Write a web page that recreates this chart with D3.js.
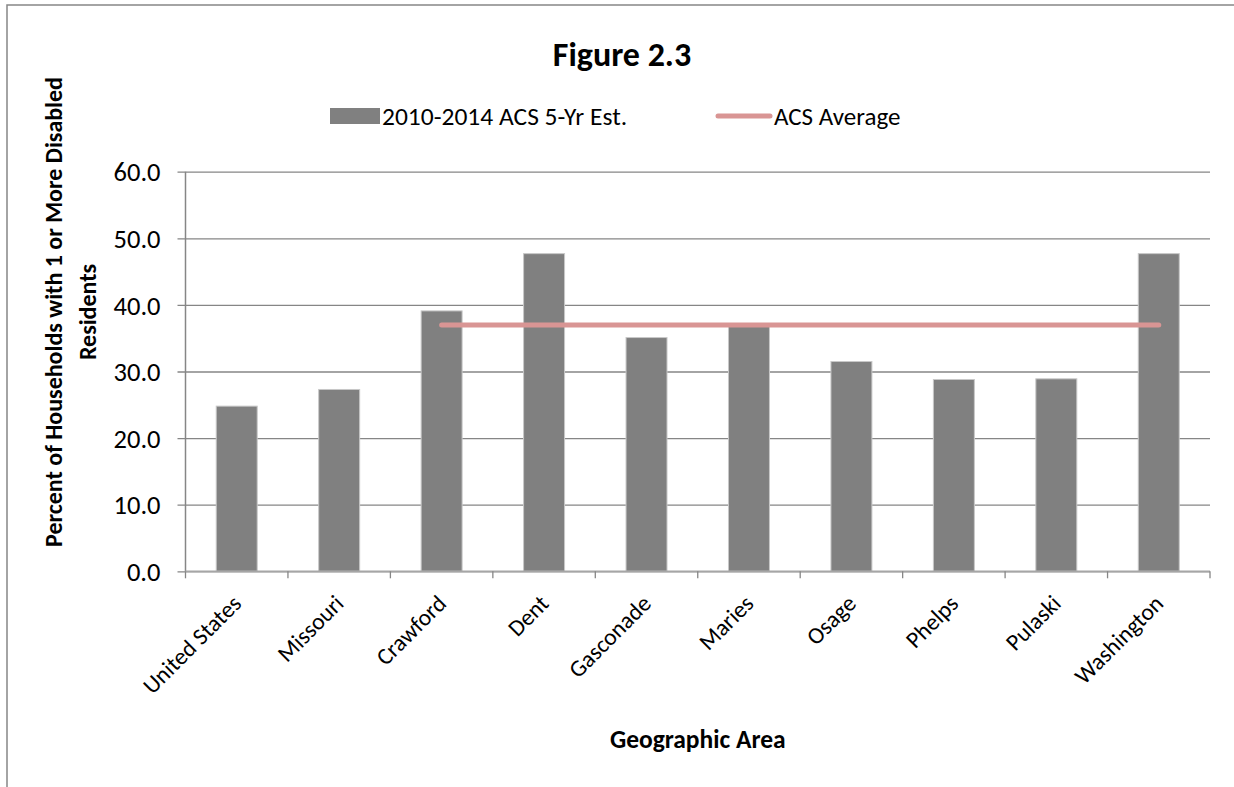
<!DOCTYPE html>
<html>
<head>
<meta charset="utf-8">
<script src="https://cdn.jsdelivr.net/npm/d3@7"></script>
<style>
  body { margin: 0; background: #fff; }
  svg { display: block; }
  text { font-family: Carlito, Calibri, Lato, sans-serif; fill: #000; }
</style>
</head>
<body>
<div id="chart"></div>
<script>
// categories and values
var areas = ["United States", "Missouri", "Crawford", "Dent", "Gasconade",
             "Maries", "Osage", "Phelps", "Pulaski", "Washington"];
var acsValues = [24.8, 27.3, 39.1, 47.7, 35.1, 36.8, 31.5, 28.8, 28.9, 47.7];
var avgAreas = ["Crawford", "Dent", "Gasconade", "Maries", "Osage", "Phelps", "Pulaski", "Washington"];
var avgValue = 37.0;
var yTicks = [0, 10, 20, 30, 40, 50, 60];

var width = 1234, height = 787;
var plotLeft = 185.5, plotRight = 1210, plotTop = 171.7, plotBottom = 571.3;

var gridColor = "#868686";
var barColor = "#808080";
var avgColor = "#d99594";

var svg = d3.select("#chart").append("svg")
    .attr("width", width)
    .attr("height", height);

// chart frame (only top and left edges fall inside the picture)
svg.append("rect")
    .attr("x", 7)
    .attr("y", 5)
    .attr("width", width + 20)
    .attr("height", height + 20)
    .attr("fill", "none")
    .attr("stroke", gridColor)
    .attr("stroke-width", 1.5);

var x = d3.scaleBand()
    .domain(areas)
    .range([plotLeft, plotRight])
    .paddingInner(0.6)
    .paddingOuter(0.3);

var y = d3.scaleLinear()
    .domain([0, 60])
    .range([plotBottom, plotTop]);

// gridlines + y axis
var yAxis = d3.axisLeft(y)
    .tickValues(yTicks)
    .tickSize(-(plotRight - plotLeft))
    .tickFormat(function(d){ return d3.format(".1f")(d); });

var gy = svg.append("g")
    .attr("transform", "translate(" + plotLeft + ",0)")
    .call(yAxis);
gy.select(".domain").remove();
gy.selectAll(".tick line")
    .attr("stroke", gridColor)
    .attr("stroke-width", 1.3)
    .attr("x1", -8);
gy.selectAll(".tick text")
    .attr("x", -25)
    .attr("dy", "0.35em")
    .style("font-size", "26.5px")
    .style("font-family", null);

// left axis line
svg.append("line")
    .attr("x1", plotLeft).attr("x2", plotLeft)
    .attr("y1", plotTop).attr("y2", plotBottom)
    .attr("stroke", gridColor)
    .attr("stroke-width", 1.5);

// bars
svg.append("g").selectAll("rect")
    .data(areas)
    .enter()
    .append("rect")
    .attr("x", function(d){ return x(d); })
    .attr("y", function(d,i){ return y(acsValues[i]); })
    .attr("width", x.bandwidth())
    .attr("height", function(d,i){ return plotBottom - y(acsValues[i]); })
    .attr("fill", barColor)
    .attr("stroke", "#c8c8c8")
    .attr("stroke-width", 1);

// x axis line and ticks between categories
var xTickPos = d3.range(areas.length + 1).map(function(i){ return plotLeft + i * x.step(); });
svg.append("line")
    .attr("x1", plotLeft).attr("x2", plotRight)
    .attr("y1", plotBottom).attr("y2", plotBottom)
    .attr("stroke", "#a6a6a6")
    .attr("stroke-width", 1.5);
svg.append("g").selectAll("line")
    .data(xTickPos)
    .enter()
    .append("line")
    .attr("x1", function(d){ return d; })
    .attr("x2", function(d){ return d; })
    .attr("y1", plotBottom)
    .attr("y2", plotBottom + 7)
    .attr("stroke", gridColor)
    .attr("stroke-width", 1.3);

// category labels, rotated
svg.append("g").selectAll("text")
    .data(areas)
    .enter()
    .append("text")
    .attr("text-anchor", "end")
    .attr("transform", function(d){
        var cx = x(d) + x.bandwidth()/2 + 6;
        return "translate(" + cx + "," + 605 + ") rotate(-45)";
    })
    .style("font-size", "23.5px")
    .text(function(d){ return d; });

// average line
var avgLine = d3.line()
    .x(function(d){ return x(d) + x.bandwidth()/2; })
    .y(function(){ return y(avgValue); });
svg.append("path")
    .datum([avgAreas[0], avgAreas[avgAreas.length - 1]])
    .attr("d", avgLine)
    .attr("fill", "none")
    .attr("stroke", avgColor)
    .attr("stroke-width", 5)
    .attr("stroke-linecap", "round");

// title
svg.append("text")
    .attr("x", 622)
    .attr("y", 66)
    .attr("text-anchor", "middle")
    .attr("font-weight", "bold")
    .style("font-size", "34px")
    .text("Figure 2.3");

// legend
var legend = svg.append("g");
legend.append("rect")
    .attr("x", 330).attr("y", 108)
    .attr("width", 50).attr("height", 16)
    .attr("fill", barColor);
legend.append("text")
    .attr("x", 382).attr("y", 125)
    .style("font-size", "25.5px")
    .text("2010-2014 ACS 5-Yr Est.");
legend.append("line")
    .attr("x1", 718).attr("x2", 770)
    .attr("y1", 116).attr("y2", 116)
    .attr("stroke", avgColor)
    .attr("stroke-width", 5)
    .attr("stroke-linecap", "round");
legend.append("text")
    .attr("x", 774).attr("y", 125)
    .style("font-size", "25px")
    .text("ACS Average");

// axis titles
svg.append("text")
    .attr("x", (plotLeft + plotRight)/2)
    .attr("y", 748)
    .attr("text-anchor", "middle")
    .attr("font-weight", "bold")
    .style("font-size", "25.5px")
    .text("Geographic Area");

var yTitle = svg.append("text")
    .attr("transform", "translate(0,312) rotate(-90)")
    .attr("text-anchor", "middle")
    .attr("font-weight", "bold")
    .style("font-size", "24px");
yTitle.append("tspan").attr("x", 0).attr("y", 62)
    .text("Percent of Households with 1 or More Disabled");
yTitle.append("tspan").attr("x", 0).attr("y", 96)
    .text("Residents");
</script>
</body>
</html>
